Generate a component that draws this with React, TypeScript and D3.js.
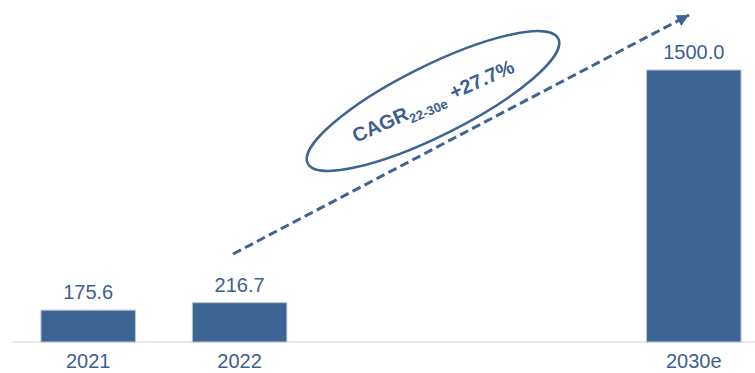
import React from "react";
import * as d3 from "d3";

const categories = ["2021", "2022", "2030e"];
const values = [175.6, 216.7, 1500.0];
const slots = ["2021", "2022", "_gap1", "_gap2", "2030e"];
const cagrLabel = "CAGR";
const cagrSub = "22-30e";
const cagrValue = "+27.7%";

const W = 755;
const H = 373;
const BLUE = "#3D6594";
const TEXT = "#3E6090";

export default function App() {
  const x = d3
    .scaleBand<string>()
    .domain(slots)
    .range([12.5, 769.5])
    .paddingInner(0.376)
    .paddingOuter(0.188);
  const y = d3.scaleLinear().domain([0, 1500]).range([342, 70]);

  const arrowStart: [number, number] = [233, 254];
  const arrowEnd: [number, number] = [689, 15];
  const line = d3.line()([arrowStart, arrowEnd]) || "";

  return (
    <svg
      width={W}
      height={H}
      style={{ position: "absolute", left: 0, top: 0, background: "#fff" }}
      fontFamily="Arial, 'Liberation Sans', sans-serif"
    >
      <defs>
        <marker
          id="ah"
          markerUnits="userSpaceOnUse"
          markerWidth={14}
          markerHeight={14}
          refX={12}
          refY={6}
          orient="auto"
          viewBox="0 0 14 12"
        >
          <path d="M0,0 L12,6 L0,12 Z" fill={BLUE} />
        </marker>
      </defs>
      <line x1={12} x2={W} y1={y(0)} y2={y(0)} stroke="#D4D4D4" strokeWidth={1.2} />
      {categories.map((c, i) => {
        const bx = x(c)!;
        const bw = x.bandwidth();
        return (
          <g key={c}>
            <rect
              x={bx}
              y={y(values[i])}
              width={bw}
              height={y(0) - y(values[i])}
              fill={BLUE}
              stroke="#B7C5D8"
              strokeWidth={1}
            />
            <text
              x={bx + bw / 2}
              y={y(values[i]) - 11}
              textAnchor="middle"
              fontSize={20}
              fill={TEXT}
            >
              {values[i].toFixed(1)}
            </text>
            <text x={bx + bw / 2} y={368} textAnchor="middle" fontSize={20} fill={TEXT}>
              {c}
            </text>
          </g>
        );
      })}
      <path
        d={line}
        stroke={BLUE}
        strokeWidth={3}
        strokeDasharray="9 4.5"
        fill="none"
        markerEnd="url(#ah)"
      />
      <g transform="translate(433,101)">
        <ellipse
          rx={140}
          ry={35}
          transform="rotate(-26.5)"
          fill="none"
          stroke={BLUE}
          strokeWidth={2.5}
        />
        <text
          transform="rotate(-24)"
          y={7}
          textAnchor="middle"
          fontWeight="bold"
          fontSize={20}
          fill={TEXT}
        >
          {cagrLabel}
          <tspan fontSize={13} dy={5}>
            {cagrSub}
          </tspan>
          <tspan dy={-5} dx={7}>
            {cagrValue}
          </tspan>
        </text>
      </g>
    </svg>
  );
}
